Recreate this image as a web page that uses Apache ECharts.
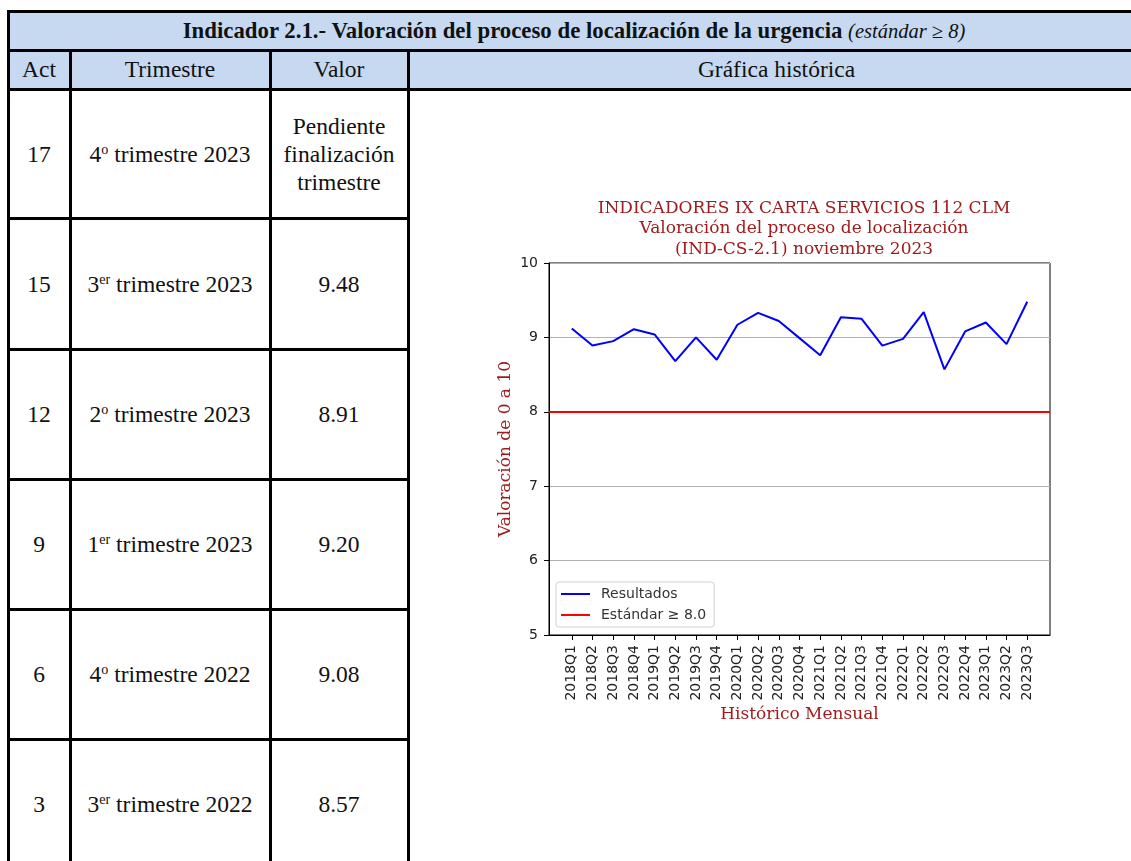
<!DOCTYPE html>
<html>
<head>
<meta charset="utf-8">
<script src="https://cdn.jsdelivr.net/npm/echarts@6/dist/echarts.min.js"></script>
<style>
  html, body { margin: 0; padding: 0; background: #fff; }
  #page { position: relative; width: 1131px; height: 861px; overflow: hidden; font-family: "Liberation Serif", serif; color: #111; }
  .fill { position: absolute; background: #c6d9f1; }
  .ln { position: absolute; background: #000; }
  .cell { position: absolute; display: flex; align-items: center; justify-content: center; text-align: center; white-space: nowrap; }
  .hd { font-size: 23.5px; }
  .bd { font-size: 23.5px; line-height: 28px; }
  sup { font-size: 0.6em; vertical-align: 0.55em; line-height: 0; }
  #chart { position: absolute; left: 0; top: 0; width: 1131px; height: 861px; }
</style>
</head>
<body>
<div id="page">
  <div id="table"></div>
  <div id="chart"></div>
</div>
<script>
// tabla de actuaciones
const acts = [17, 15, 12, 9, 6, 3];
const quarterNum = ['4', '3', '2', '1', '4', '3'];
const quarterSuffix = ['o', 'er', 'o', 'er', 'o', 'er'];
const quarterYear = ['2023', '2023', '2023', '2023', '2022', '2022'];
const valores = ['Pendiente<br>finalización<br>trimestre', '9.48', '8.91', '9.20', '9.08', '8.57'];

// gráfica histórica
const periods = ['2018Q1', '2018Q2', '2018Q3', '2018Q4', '2019Q1', '2019Q2', '2019Q3', '2019Q4',
  '2020Q1', '2020Q2', '2020Q3', '2020Q4', '2021Q1', '2021Q2', '2021Q3', '2021Q4',
  '2022Q1', '2022Q2', '2022Q3', '2022Q4', '2023Q1', '2023Q2', '2023Q3'];
const results = [9.12, 8.89, 8.95, 9.11, 9.04, 8.68, 9.00, 8.70, 9.17, 9.33, 9.22, 8.99,
  8.76, 9.27, 9.25, 8.89, 8.98, 9.34, 8.57, 9.08, 9.20, 8.91, 9.48];
const standard = 8;

function buildTable() {
  const t = document.getElementById('table');
  let html = '';
  const colX = [8, 70, 270, 408, 1145];
  const rowY = [89, 218, 349, 479, 609, 739, 869];
  html += '<div class="fill" style="left:8px;top:11px;width:1140px;height:78px"></div>';
  html += '<div class="cell" style="left:8px;top:11px;width:1132px;height:39px;font-size:22.8px">' +
    '<span><b>Indicador 2.1.- Valoración del proceso de localización de la urgencia</b> <i style="font-size:20.5px">(estándar ≥ 8)</i></span></div>';
  const heads = ['Act', 'Trimestre', 'Valor', 'Gráfica histórica'];
  heads.forEach((h, i) => {
    html += '<div class="cell hd" style="left:' + colX[i] + 'px;top:50px;width:' + (colX[i + 1] - colX[i]) + 'px;height:39px">' + h + '</div>';
  });
  acts.forEach((a, r) => {
    const y = rowY[r], h = rowY[r + 1] - rowY[r];
    const cols = [String(a), quarterNum[r] + '<sup>' + quarterSuffix[r] + '</sup> trimestre ' + quarterYear[r], valores[r]];
    cols.forEach((c, i) => {
      html += '<div class="cell bd" style="left:' + colX[i] + 'px;top:' + y + 'px;width:' + (colX[i + 1] - colX[i]) + 'px;height:' + h + 'px"><span>' + c + '</span></div>';
    });
  });
  // lineas
  [11, 50, 89].forEach(y => { html += '<div class="ln" style="left:7px;top:' + (y - 1.5) + 'px;width:1140px;height:3px"></div>'; });
  rowY.slice(1, 6).forEach(y => { html += '<div class="ln" style="left:7px;top:' + (y - 1.5) + 'px;width:403px;height:3px"></div>'; });
  html += '<div class="ln" style="left:' + (8 - 1.5) + 'px;top:10px;width:3px;height:860px"></div>';
  colX.slice(1, 4).forEach(x => { html += '<div class="ln" style="left:' + (x - 1.5) + 'px;top:49px;width:3px;height:820px"></div>'; });
  t.innerHTML = html;
}
buildTable();

const darkRed = '#a01c1c';
const chart = echarts.init(document.getElementById('chart'));
const idx = periods.map((p, i) => i);
chart.setOption({
  animation: false,
  title: {
    text: 'INDICADORES IX CARTA SERVICIOS 112 CLM\nValoración del proceso de localización\n(IND-CS-2.1) noviembre 2023',
    left: 799,
    top: 193,
    textAlign: 'center',
    textStyle: { fontFamily: 'DejaVu Serif', fontSize: 17, fontWeight: 'normal', color: darkRed, lineHeight: 20.5 }
  },
  legend: {
    orient: 'vertical',
    left: 556,
    top: 582,
    data: ['Resultados', 'Estándar ≥ 8.0'],
    icon: 'rect',
    itemWidth: 29,
    itemHeight: 2,
    itemGap: 7,
    padding: [5, 8, 5, 5],
    borderColor: '#d0d0d0',
    borderWidth: 1,
    borderRadius: 3,
    backgroundColor: 'rgba(255,255,255,0.8)',
    textStyle: { fontFamily: 'DejaVu Sans', fontSize: 14, color: '#333', padding: [0, 0, 0, 6], lineHeight: 10 }
  },
  grid: {
    left: 549, right: 81, top: 263, bottom: 226,
    show: true, borderColor: '#000', borderWidth: 1, backgroundColor: 'transparent'
  },
  xAxis: {
    type: 'value',
    min: -1.1,
    max: periods.length - 1 + 1.1,
    name: 'Histórico Mensual',
    nameLocation: 'middle',
    nameGap: 71,
    nameTextStyle: { fontFamily: 'DejaVu Serif', fontSize: 17, color: darkRed },
    axisLine: { show: true, onZero: false, lineStyle: { color: '#000', width: 1 } },
    axisTick: { show: true, customValues: idx, length: 5, lineStyle: { color: '#000' } },
    axisLabel: {
      customValues: idx,
      rotate: 90,
      margin: 10,
      fontFamily: 'DejaVu Sans',
      fontSize: 14,
      color: '#222',
      formatter: v => periods[Math.round(v)]
    },
    splitLine: { show: false }
  },
  yAxis: {
    type: 'value',
    min: 5,
    max: 10,
    interval: 1,
    name: 'Valoración de 0 a 10',
    nameLocation: 'middle',
    nameGap: 35,
    nameTextStyle: { fontFamily: 'DejaVu Serif', fontSize: 17, color: darkRed },
    axisLine: { show: true, onZero: false, lineStyle: { color: '#000', width: 1 } },
    axisTick: { show: true, length: 5, lineStyle: { color: '#000' } },
    axisLabel: { margin: 11, fontFamily: 'DejaVu Sans', fontSize: 14, color: '#222' },
    splitLine: { show: true, lineStyle: { color: '#b0b0b0', width: 1 } }
  },
  series: [
    {
      name: 'Resultados',
      type: 'line',
      symbol: 'none',
      color: '#0000ff',
      lineStyle: { color: '#0000ff', width: 2 },
      data: periods.map((p, i) => [i, results[i]]),
      z: 3
    },
    {
      name: 'Estándar ≥ 8.0',
      type: 'line',
      symbol: 'none',
      color: '#ff0000',
      lineStyle: { color: '#ff0000', width: 2 },
      data: [],
      markLine: {
        silent: true,
        symbol: 'none',
        label: { show: false },
        lineStyle: { color: '#ff0000', width: 2, type: 'solid' },
        data: [{ yAxis: standard }]
      },
      z: 4
    }
  ]
});
</script>
</body>
</html>
